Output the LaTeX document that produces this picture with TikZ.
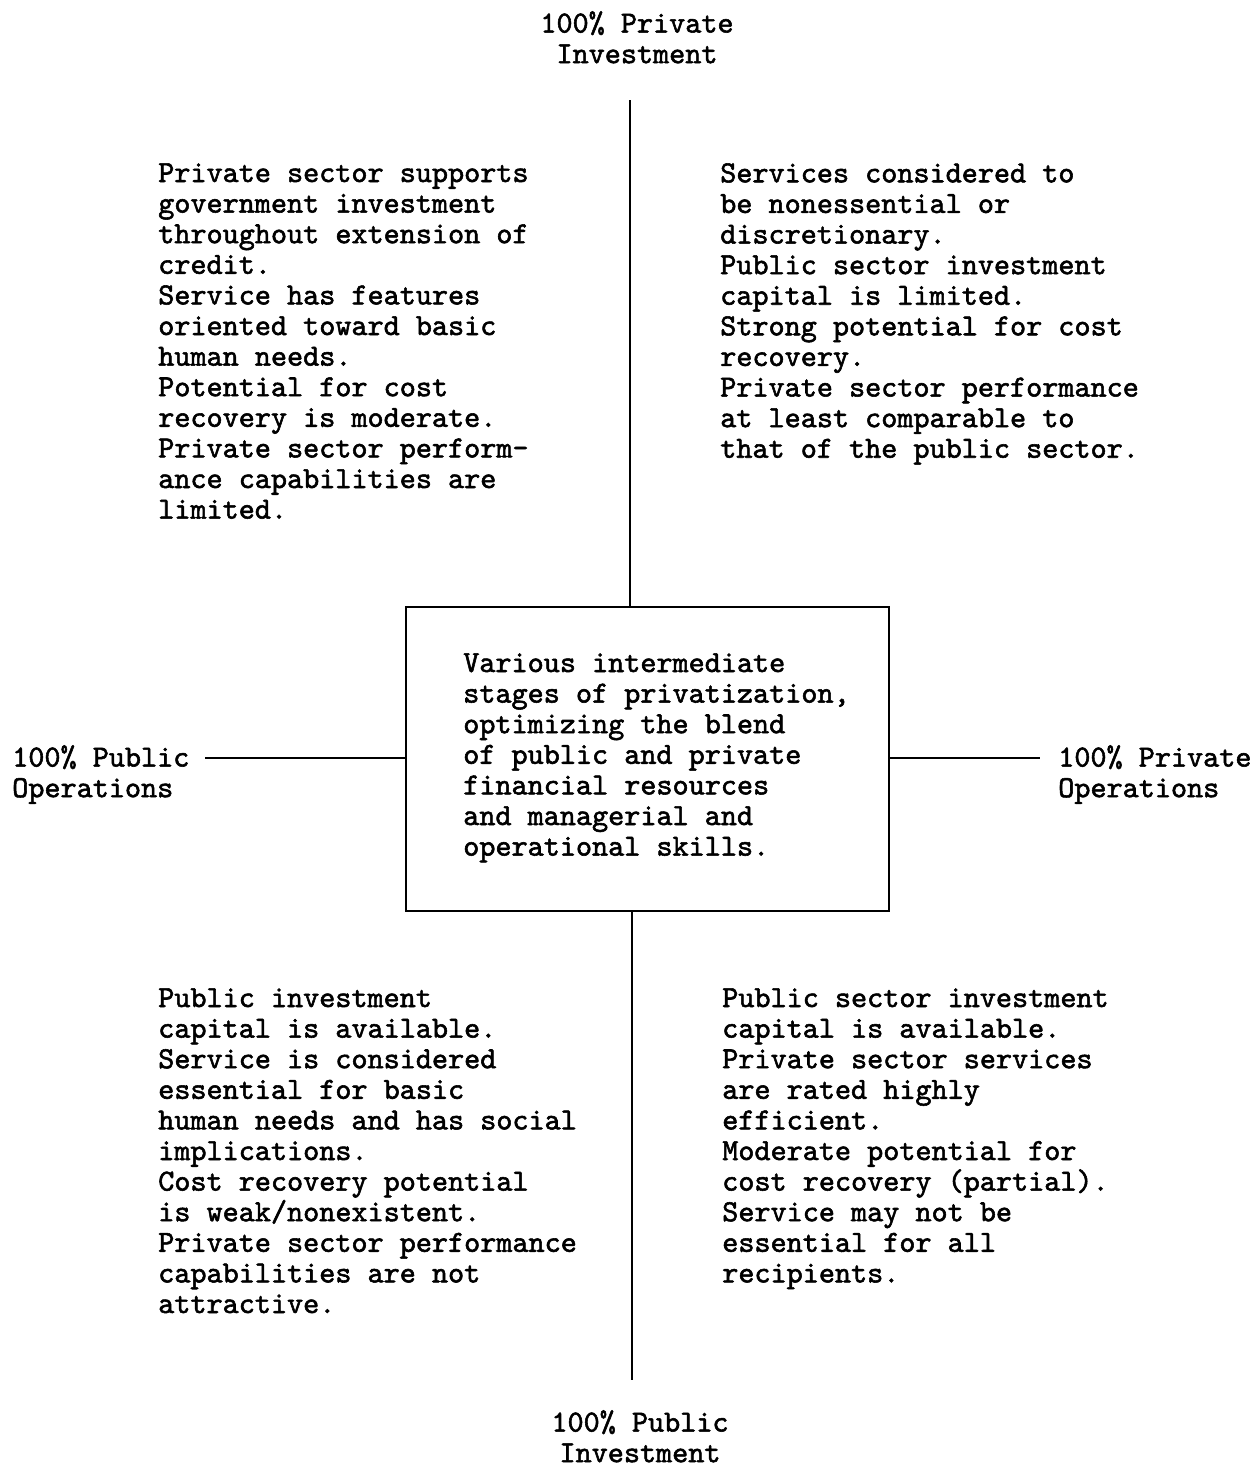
\documentclass[tikz,border=0pt]{standalone}
\usepackage{fontspec}
\setmonofont[FakeBold=1.8]{lmmono10-regular.otf}
\usepackage{tikz}

\tikzset{
  quadtext/.style={anchor=north west, inner sep=0pt, align=left,
    font=\ttfamily\fontsize{23}{22.95}\selectfont},
  axislabel/.style={inner sep=0pt,
    font=\ttfamily\fontsize{23}{22.95}\selectfont},
  axisline/.style={line width=1.5pt}
}

\begin{document}
\begin{tikzpicture}[x=0.75pt,y=0.75pt,yscale=-1,xscale=1]
    \useasboundingbox (0,0) rectangle (1259,1467);

    %Shape: Rectangle [id:box]
    \draw [axisline] (406,607) rectangle (889,911);
    \node (box) [inner sep=0pt, minimum width=483*0.75pt, minimum height=304*0.75pt] at (647.5,759) {};

    %Straight Lines [id:axes]
    \coordinate (ptop) at (630,100);
    \coordinate (pbot) at (632,1380);
    \coordinate (pleft) at (205,758);
    \coordinate (pright) at (1040,758);
    \draw [axisline] (ptop) -- (box.north -| ptop);
    \draw [axisline] (box.south -| pbot) -- (pbot);
    \draw [axisline] (pleft) -- (box.west |- pleft);
    \draw [axisline] (box.east |- pright) -- (pright);

    % Text Node
    \draw (637,11) node (topLabel) [axislabel, anchor=north, align=center] {100\% Private\\Investment};
    % Text Node
    \draw (640,1410) node (botLabel) [axislabel, anchor=north, align=center] {100\% Public\\Investment};
    % Text Node
    \draw (12,745) node (leftLabel) [axislabel, anchor=north west, align=left] {100\% Public\\Operations};
    % Text Node
    \draw (1058,745) node (rightLabel) [axislabel, anchor=north west, align=left] {100\% Private\\Operations};

    % Text Node
    \draw (463,653) node (boxText) [quadtext] {Various intermediate\\stages of privatization,\\optimizing the blend\\of public and private\\financial resources\\and managerial and\\operational skills.};
    % Text Node
    \draw (158,163) node (tlText) [quadtext] {Private sector supports\\government investment\\throughout extension of\\credit.\\Service has features\\oriented toward basic\\human needs.\\Potential for cost\\recovery is moderate.\\Private sector perform-\\ance capabilities are\\limited.};
    % Text Node
    \draw (720,163) node (trText) [quadtext] {Services considered to\\be nonessential or\\discretionary.\\Public sector investment\\capital is limited.\\Strong potential for cost\\recovery.\\Private sector performance\\at least comparable to\\that of the public sector.};
    % Text Node
    \draw (158,988) node (blText) [quadtext] {Public investment\\capital is available.\\Service is considered\\essential for basic\\human needs and has social\\implications.\\Cost recovery potential\\is weak/nonexistent.\\Private sector performance\\capabilities are not\\attractive.};
    % Text Node
    \draw (722,988) node (brText) [quadtext] {Public sector investment\\capital is available.\\Private sector services\\are rated highly\\efficient.\\Moderate potential for\\cost recovery (partial).\\Service may not be\\essential for all\\recipients.};

\end{tikzpicture}
\end{document}
